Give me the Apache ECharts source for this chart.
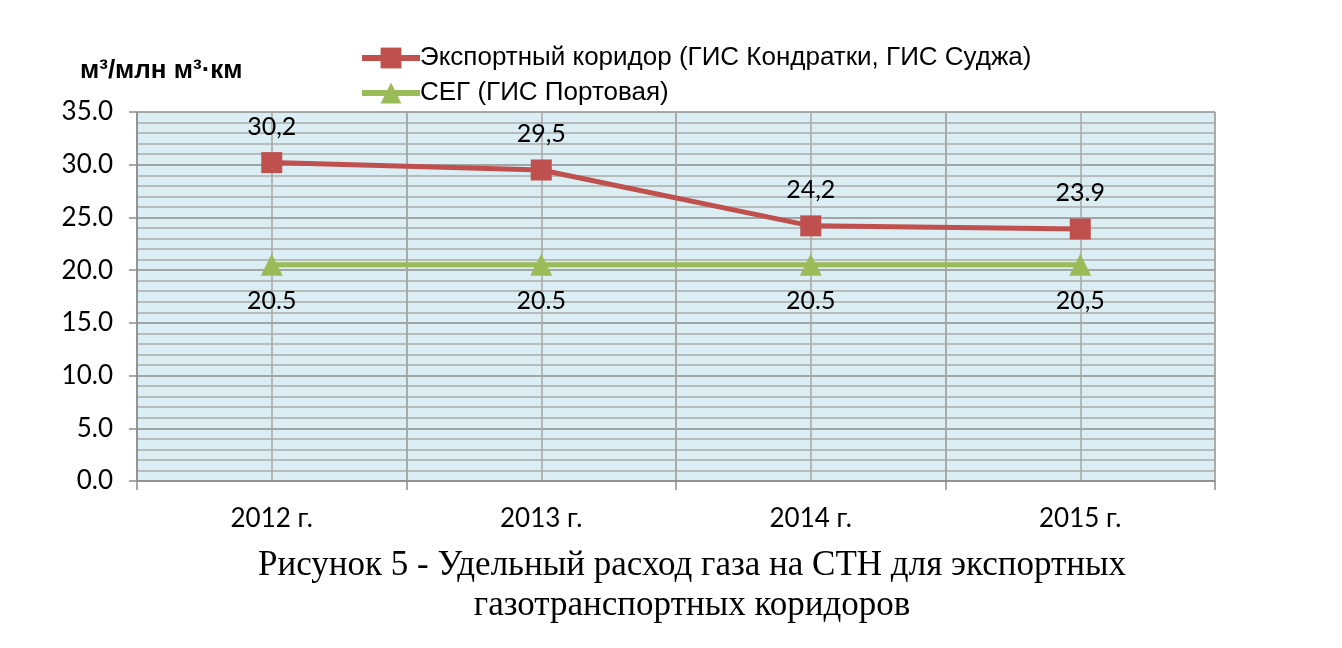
<!DOCTYPE html>
<html><head><meta charset="utf-8">
<script src="https://cdn.jsdelivr.net/npm/echarts@6/dist/echarts.min.js"></script>
<style>html,body{margin:0;padding:0;background:#fff}#c{width:1342px;height:648px}</style>
</head><body><div id="c"></div>
<script>
const categories = ['2012 г.', '2013 г.', '2014 г.', '2015 г.'];
const exportValues = [30.2, 29.5, 24.2, 23.9];
const segValues = [20.5, 20.5, 20.5, 20.5];
const exportLabels = ['30,2', '29,5', '24,2', '23.9'];
const segLabels = ['20.5', '20.5', '20.5', '20,5'];
const seriesNames = ['Экспортный коридор (ГИС Кондратки, ГИС Суджа)', 'СЕГ (ГИС Портовая)'];
const yTitle = 'м³/млн м³·км';
const captionLines = ['Рисунок 5 - Удельный расход газа на СТН для экспортных', 'газотранспортных коридоров'];

const halfCats = [];
categories.forEach(c => { halfCats.push(c + 'a'); halfCats.push(c + 'b'); });

const chart = echarts.init(document.getElementById('c'));
const labelFont = 'Lato, "Open Sans", sans-serif';
const red = '#C0504D', green = '#9BBB59';
chart.setOption({
  animation: false,
  grid: { left: 137, right: 127, top: 112, bottom: 167, show: true, backgroundColor: '#DAEEF3', borderWidth: 0 },
  legend: {
    orient: 'vertical', left: 354, top: 40, itemGap: 9, itemWidth: 58, itemHeight: 26,
    textStyle: { fontFamily: '"Liberation Sans", Arial, sans-serif', fontSize: 26, color: '#000', padding: [0, 0, 0, -5] },
    data: [
      { name: seriesNames[0], lineStyle: { color: red, width: 6 }, itemStyle: { color: red } },
      { name: seriesNames[1], lineStyle: { color: green, width: 6 }, itemStyle: { color: green } }
    ]
  },
  graphic: [{
    type: 'text', left: 80, top: 58,
    style: { text: yTitle, font: 'bold 26px "Liberation Sans", Arial, sans-serif', fill: '#000' }
  }, {
    type: 'text', x: 692, y: 546,
    style: { text: captionLines.join('\n'), font: '35px "Liberation Serif", "Times New Roman", serif', fill: '#000',
      align: 'center', lineHeight: 40 }
  }],
  xAxis: [{
    type: 'category', data: categories, boundaryGap: true,
    axisLine: { lineStyle: { color: '#8c8c8c', width: 1.5 } },
    axisTick: { show: true, length: 9, lineStyle: { color: '#8c8c8c', width: 1.5 } },
    axisLabel: { fontFamily: labelFont, fontSize: 26, color: '#000', margin: 25 },
    splitLine: { show: true, lineStyle: { color: '#a6a6a6', width: 1.5 } }
  }, {
    type: 'category', data: halfCats, boundaryGap: true, position: 'bottom',
    axisLine: { show: false }, axisTick: { show: false }, axisLabel: { show: false },
    splitLine: { show: true, interval: 0, lineStyle: { color: '#a6a6a6', width: 1.5 } }
  }],
  yAxis: {
    type: 'value', min: 0, max: 35, interval: 5,
    axisLine: { show: true, lineStyle: { color: '#8c8c8c', width: 1.5 } },
    axisTick: { show: true, length: 8, lineStyle: { color: '#8c8c8c', width: 1.5 } },
    axisLabel: { fontFamily: labelFont, fontSize: 26, color: '#000', margin: 24, formatter: v => v.toFixed(1) },
    splitLine: { show: true, lineStyle: { color: '#8c8c8c', width: 1.5 } },
    minorTick: { show: false, splitNumber: 5 },
    minorSplitLine: { show: true, lineStyle: { color: '#ababab', width: 1.5 } }
  },
  series: [{
    name: seriesNames[0], type: 'line', data: exportValues, xAxisIndex: 0,
    symbol: 'rect', symbolSize: 21,
    lineStyle: { color: red, width: 5 }, itemStyle: { color: red },
    label: { show: true, position: 'top', distance: 13, fontFamily: labelFont, fontSize: 25, color: '#000',
      formatter: p => exportLabels[p.dataIndex] }
  }, {
    name: seriesNames[1], type: 'line', data: segValues, xAxisIndex: 0,
    symbol: 'triangle', symbolSize: 22,
    lineStyle: { color: green, width: 5 }, itemStyle: { color: green },
    label: { show: true, position: 'bottom', distance: 13, fontFamily: labelFont, fontSize: 25, color: '#000',
      formatter: p => segLabels[p.dataIndex] }
  }]
});
</script></body></html>
